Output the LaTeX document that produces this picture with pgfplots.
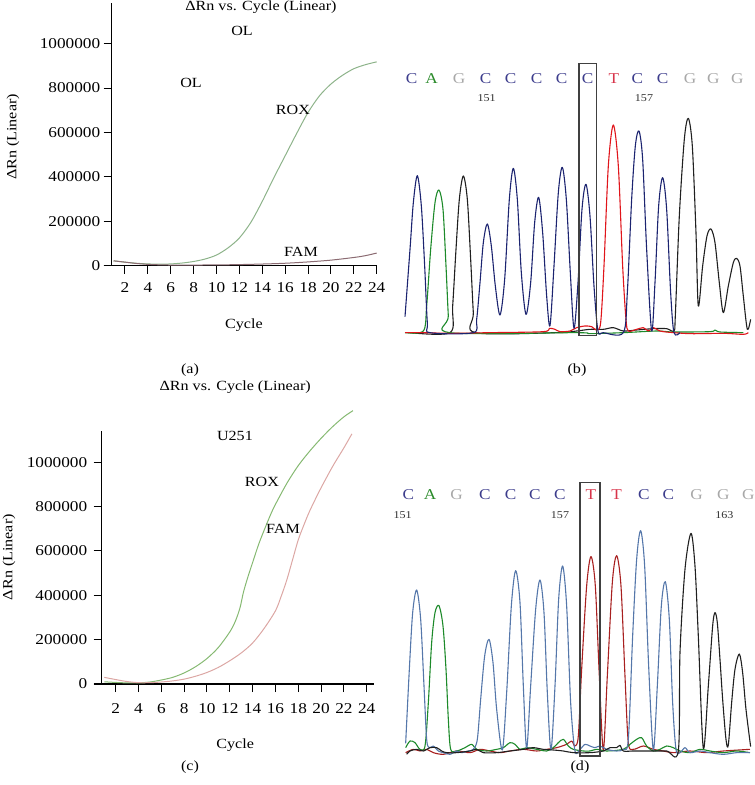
\documentclass[border=0pt]{standalone}
\usepackage{fontspec}
\setmainfont{Liberation Serif}[FakeStretch=1.15]
\usepackage{pgfplots}
\pgfplotsset{compat=1.18}
\definecolor{roxA}{HTML}{8DB38A}
\definecolor{famA}{HTML}{8B6B72}
\definecolor{roxC}{HTML}{86B972}
\definecolor{famC}{HTML}{DCA7A4}
\definecolor{trB}{HTML}{1C2470}
\definecolor{trG}{HTML}{1D8A2A}
\definecolor{trK}{HTML}{202020}
\definecolor{trR}{HTML}{E0151B}
\definecolor{trBd}{HTML}{5577AA}
\definecolor{trRd}{HTML}{A82020}
\definecolor{lC}{HTML}{3C3C8C}
\definecolor{lA}{HTML}{2A8A2A}
\definecolor{lG}{HTML}{A8A8A8}
\definecolor{lT}{HTML}{D8344A}
\newcommand\fs{\fontsize{14bp}{16bp}\selectfont}
\newcommand\fst{\fontsize{15bp}{17bp}\selectfont}
\newcommand\fsn{\fontsize{10.5bp}{12bp}\selectfont}
\pgfplotsset{
  qpcr/.style={
    scale only axis, anchor=south west, enlargelimits=false, clip=false,
    axis lines=left, axis line style={-, line width=1.2bp},
    x axis line style={shorten <=-8bp},
    xtick={2,4,...,24}, ytick={0,200000,...,1000000},
    tick align=outside, major tick length=8bp,
    tick style={line width=1bp, black},
    scaled y ticks=false,
    /pgf/number format/assume math mode=true,
    yticklabel style={/pgf/number format/fixed, /pgf/number format/1000 sep={}},
    font=\fs, tick label style={font=\fst}, label style={font=\fs},
    every axis title/.style={font=\fs, anchor=center},
  },
  chrom/.style={
    anchor=south west, x=0.33333bp, y=0.33333bp, hide axis, clip=false,
    xmin=0, xmax=1095,
    every axis plot/.append style={smooth, line width=1.1bp, line join=round, no markers},
  },
}
\begin{document}
\begin{tikzpicture}
\useasboundingbox (0,0) rectangle (755bp,785bp);
% ---------------- (a)
\begin{axis}[qpcr, at={(111.7bp,519.3bp)}, width=265bp, height=262.7bp,
  xmin=0.84, xmax=24, ymin=0, ymax=1183000,
  xticklabel style={yshift=-5bp},
  title={ΔRn vs. Cycle (Linear)}, title style={at={(axis description cs:0.563,0.985)}},
  xlabel={Cycle}, xlabel style={at={(axis description cs:0.499,-0.226)}, anchor=center},
  ylabel={ΔRn (Linear)}, ylabel style={at={(axis description cs:-0.372,0.49)}, anchor=center}]
\addplot[roxA, line width=1bp, smooth, no markers] coordinates {
(1,22000) (2,16000) (3,11000) (4,8000) (5,7000) (6,8000) (7,12000) (8,19000) (9,30000) (10,48000) (11,80000) (12,125000) (13,195000) (14,290000) (15,395000) (16,495000) (17,595000) (18,690000) (19,765000) (20,818000) (21,857000) (22,887000) (23,905000) (24,918000)};
\addplot[famA, line width=1bp, smooth, no markers] coordinates {
(1,22000) (2,16000) (3,10000) (4,6000) (5,4000) (6,3000) (8,3000) (10,3500) (12,5000) (14,7500) (16,11000) (18,17000) (20,25000) (22,37000) (23,45000) (24,57000)};
\node at (axis cs:12.23,1057000) {OL};
\node at (axis cs:7.77,822700) {OL};
\node at (axis cs:16.68,701000) {ROX};
\node at (axis cs:17.39,61700) {FAM};
\end{axis}
% ---------------- (c)
\begin{axis}[qpcr, at={(101.7bp,101bp)}, width=272.3bp, height=253.3bp,
  xmin=0.77, xmax=24.64, ymin=0, ymax=1142500,
  xticklabel style={yshift=-8bp}, yticklabel style={xshift=-3bp},
  title={ΔRn vs. Cycle (Linear)}, title style={at={(axis description cs:0.49,1.1725)}},
  xlabel={Cycle}, xlabel style={at={(axis description cs:0.49,-0.241)}, anchor=center},
  ylabel={ΔRn (Linear)}, ylabel style={at={(axis description cs:-0.34,0.501)}, anchor=center}]
\addplot[roxC, line width=1bp, smooth, no markers] coordinates {
(1,10000) (2,7000) (3,5000) (4,5000) (5,9000) (6,18000) (7,30000) (8,50000) (9,78000) (10,115000) (11,165000) (12,235000) (12.5,285000) (12.9,345000) (13.2,415000) (13.6,485000) (14,548000) (14.6,640000) (15.5,755000) (16,810000) (17,905000) (18,985000) (19,1050000) (20,1108000) (21,1160000) (22,1205000) (22.8,1233000)};
\addplot[famC, line width=1bp, smooth, no markers] coordinates {
(1,30000) (2,20000) (3,11000) (4,6000) (5,6000) (6,9000) (7,14000) (8,22000) (9,35000) (10,52000) (11,75000) (12,105000) (13,140000) (14,185000) (15,250000) (16,330000) (16.5,395000) (17,470000) (17.5,560000) (18,650000) (18.5,718000) (19,780000) (19.9,875000) (21,980000) (22,1065000) (22.7,1128000)};
\node at (axis cs:12.45,1118600) {U251};
\node at (axis cs:14.82,911000) {ROX};
\node at (axis cs:16.66,699000) {FAM};
\end{axis}
% ---------------- (b)
\begin{axis}[chrom, at={(390bp,435.67bp)}, ymin=-50, ymax=848]
\addplot[trK] coordinates {(60,0) (180,0) (188,80) (198,250) (208,400) (220,470) (232,400) (242,220) (250,60) (256,0) (500,0) (560,5) (600,10) (640,10) (670,15) (700,5) (740,8) (790,12) (830,12) (852,5) (856,50) (868,350) (883,580) (895,643) (907,560) (918,300) (925,80) (938,200) (951,290) (963,311) (975,270) (988,150) (1000,60) (1015,140) (1030,210) (1040,223) (1050,200) (1060,110) (1072,10) (1082,40)};
\addplot[trG] coordinates {(45,0) (100,5) (110,80) (122,250) (135,390) (147,428) (159,370) (168,200) (175,50) (180,0) (560,0) (600,-3) (700,0) (800,5) (850,2) (960,3) (975,8) (990,2) (1060,0)};
\addplot[trR] coordinates {(45,0) (100,0) (180,-2) (300,0) (460,3) (478,13) (495,10) (510,3) (540,5) (560,15) (585,20) (605,18) (620,8) (632,30) (642,200) (655,500) (670,623) (685,500) (698,200) (708,40) (715,5) (740,10) (760,15) (775,5) (790,15) (800,10) (820,3) (900,-3) (1000,-2) (1060,-5) (1075,0)};
\addplot[trB] coordinates {(45,48) (60,250) (70,390) (82,471) (94,380) (104,200) (112,30) (120,0) (250,0) (260,40) (270,150) (280,270) (292,326) (304,260) (316,140) (330,53) (344,160) (358,400) (370,493) (382,400) (394,180) (408,55) (422,150) (434,330) (446,406) (458,300) (470,110) (480,21) (492,200) (505,420) (517,496) (529,400) (541,180) (552,13) (564,150) (576,370) (588,445) (600,350) (612,140) (624,5) (640,0) (700,0) (712,120) (725,400) (736,560) (747,605) (758,520) (770,250) (785,5) (795,150) (806,380) (818,465) (830,370) (842,120) (852,0) (870,0)};
\draw[line width=1.2bp, black!75] (axis cs:567,-9) rectangle (axis cs:620,808);
\node[text=lC, font=\fst] at (axis cs:65,763) {C};
\node[text=lA, font=\fst] at (axis cs:125,763) {A};
\node[text=lG, font=\fst] at (axis cs:207,763) {G};
\node[text=lC, font=\fst] at (axis cs:287,763) {C};
\node[text=lC, font=\fst] at (axis cs:362,763) {C};
\node[text=lC, font=\fst] at (axis cs:440,763) {C};
\node[text=lC, font=\fst] at (axis cs:515,763) {C};
\node[text=lC, font=\fst] at (axis cs:593,763) {C};
\node[text=lT, font=\fst] at (axis cs:672,763) {T};
\node[text=lC, font=\fst] at (axis cs:742,763) {C};
\node[text=lC, font=\fst] at (axis cs:818,763) {C};
\node[text=lG, font=\fst] at (axis cs:900,763) {G};
\node[text=lG, font=\fst] at (axis cs:970,763) {G};
\node[text=lG, font=\fst] at (axis cs:1042,763) {G};
\node[font=\fsn, text=black!80] at (axis cs:290,703) {151};
\node[font=\fsn, text=black!80] at (axis cs:762,703) {157};
\end{axis}
% ---------------- (d)
\begin{axis}[chrom, at={(390bp,25.67bp)}, ymin=-20, ymax=878]
\addplot[trRd] coordinates {(47,0) (70,10) (90,5) (110,10) (130,0) (160,-5) (200,5) (240,0) (270,10) (300,5) (330,0) (360,5) (400,10) (440,5) (470,10) (500,15) (530,25) (545,35) (555,20) (565,50) (575,250) (590,500) (603,588) (616,500) (628,230) (640,8) (652,230) (667,510) (680,591) (693,500) (705,230) (715,30) (730,10) (760,20) (790,10) (820,5) (850,0) (900,5) (950,0) (1000,5) (1080,10)};
\addplot[trG] coordinates {(47,15) (60,35) (75,30) (90,10) (105,20) (115,150) (125,330) (135,420) (147,441) (159,380) (168,250) (175,100) (182,10) (200,5) (225,15) (245,25) (260,10) (290,5) (320,10) (340,15) (360,30) (375,25) (390,10) (410,15) (440,10) (470,5) (490,15) (505,30) (520,40) (535,20) (550,10) (580,5) (600,5) (620,10) (650,5) (700,10) (720,25) (740,40) (755,45) (770,20) (790,5) (810,10) (830,20) (850,15) (870,5) (900,0) (930,10) (960,5) (1000,0) (1040,5) (1080,0)};
\addplot[trBd] coordinates {(47,28) (58,250) (68,420) (80,488) (92,400) (102,200) (110,40) (118,15) (130,20) (145,5) (160,0) (180,-5) (200,5) (215,0) (235,5) (250,10) (262,40) (272,160) (284,290) (297,340) (309,270) (320,130) (337,8) (350,180) (364,440) (377,546) (390,450) (400,200) (410,13) (422,200) (437,430) (450,518) (462,420) (472,180) (483,8) (495,200) (506,460) (518,560) (530,440) (542,150) (555,5) (570,10) (585,25) (600,20) (615,15) (630,20) (650,10) (680,5) (700,10) (715,40) (728,350) (740,580) (752,666) (764,560) (776,260) (790,8) (802,200) (814,440) (826,513) (838,400) (848,150) (858,10) (870,0) (885,15) (900,0) (930,5) (960,0) (1000,-5) (1040,0) (1080,0)};
\addplot[trK] coordinates {(50,-5) (60,5) (80,10) (100,5) (120,15) (140,15) (155,5) (170,0) (200,0) (240,5) (260,10) (280,0) (320,0) (360,5) (400,10) (430,15) (460,10) (490,8) (520,5) (550,0) (600,0) (640,5) (660,15) (680,15) (690,22) (700,5) (730,5) (780,5) (830,5) (865,5) (870,300) (885,550) (903,658) (915,560) (925,350) (940,13) (955,200) (968,380) (975,420) (982,390) (990,280) (998,160) (1008,40) (1015,23) (1025,150) (1035,250) (1048,296) (1058,240) (1068,130) (1082,18)};
\draw[line width=1.2bp, black!75] (axis cs:570,-10) rectangle (axis cs:630,810);
\node[text=lC, font=\fst] at (axis cs:55,773) {C};
\node[text=lA, font=\fst] at (axis cs:120,773) {A};
\node[text=lG, font=\fst] at (axis cs:200,773) {G};
\node[text=lC, font=\fst] at (axis cs:285,773) {C};
\node[text=lC, font=\fst] at (axis cs:362,773) {C};
\node[text=lC, font=\fst] at (axis cs:435,773) {C};
\node[text=lC, font=\fst] at (axis cs:510,773) {C};
\node[text=lT, font=\fst] at (axis cs:603,773) {T};
\node[text=lT, font=\fst] at (axis cs:680,773) {T};
\node[text=lC, font=\fst] at (axis cs:762,773) {C};
\node[text=lC, font=\fst] at (axis cs:835,773) {C};
\node[text=lG, font=\fst] at (axis cs:920,773) {G};
\node[text=lG, font=\fst] at (axis cs:1000,773) {G};
\node[text=lG, font=\fst] at (axis cs:1075,773) {G};
\node[font=\fsn, text=black!80] at (axis cs:38,713) {151};
\node[font=\fsn, text=black!80] at (axis cs:510,713) {157};
\node[font=\fsn, text=black!80] at (axis cs:1003,713) {163};
\end{axis}
% panel captions
\node[font=\fs] at (190bp,415bp) {(a)};
\node[font=\fs] at (577bp,415bp) {(b)};
\node[font=\fs] at (190bp,18bp) {(c)};
\node[font=\fs] at (580bp,18bp) {(d)};
\end{tikzpicture}
\end{document}
